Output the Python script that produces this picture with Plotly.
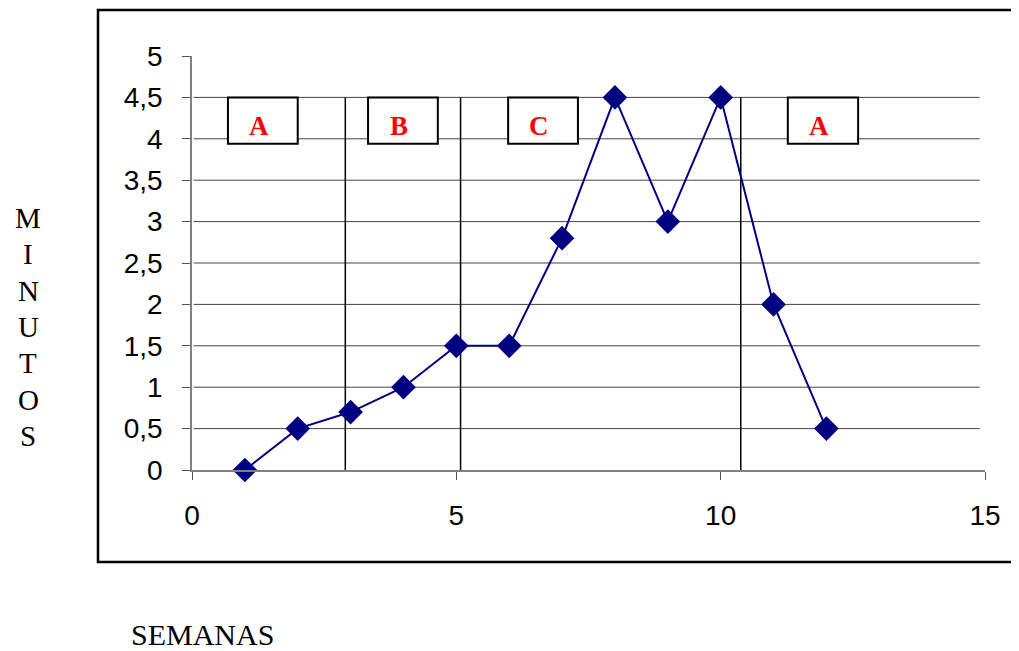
import plotly.graph_objects as go

semanas = [1, 2, 3, 4, 5, 6, 7, 8, 9, 10, 11, 12]
minutos = [0, 0.5, 0.7, 1, 1.5, 1.5, 2.8, 4.5, 3, 4.5, 2, 0.5]

y_ticks = [0, 0.5, 1, 1.5, 2, 2.5, 3, 3.5, 4, 4.5, 5]
y_ticktext = ["0", "0,5", "1", "1,5", "2", "2,5", "3", "3,5", "4", "4,5", "5"]
x_ticks = [0, 5, 10, 15]

phase_lines = [2.9, 5.08, 10.38]
phase_labels = ["A", "B", "C", "A"]
phase_box_x0 = [0.68, 3.33, 5.98, 11.27]
phase_box_x1 = [2.0, 4.65, 7.3, 12.6]
box_y0, box_y1 = 3.94, 4.5

OFF = 8  # default page body margin
W, H = 1019 - OFF, 651 - OFF
L, R, T, B = 192 - OFF, 34, 56 - OFF, 181
pw, ph = W - L - R, H - T - B

def px(xp):
    return (xp - OFF - L) / pw

def py(yp):
    return (H - B - (yp - OFF)) / ph

fig = go.Figure()

shapes = []
for v in y_ticks[1:-1]:
    shapes.append(dict(type="line", xref="x", yref="y", x0=0.03, x1=14.9, y0=v, y1=v,
                       line=dict(color="#444444", width=1), layer="below"))
for v in phase_lines:
    shapes.append(dict(type="line", xref="x", yref="y", x0=v, x1=v, y0=0, y1=4.5,
                       line=dict(color="black", width=1.5), layer="below"))
for x0, x1 in zip(phase_box_x0, phase_box_x1):
    shapes.append(dict(type="rect", xref="x", yref="y", x0=x0, x1=x1, y0=box_y0, y1=box_y1,
                       fillcolor="white", line=dict(color="black", width=2), layer="below"))
shapes.append(dict(type="rect", xref="paper", yref="paper", x0=px(98), x1=px(1040),
                   y0=py(562), y1=py(10), line=dict(color="black", width=2.5)))

fig.add_trace(go.Scatter(
    x=semanas, y=minutos, mode="lines+markers",
    line=dict(color="#000080", width=2),
    marker=dict(symbol="diamond", size=19, color="#000080"),
    cliponaxis=False, showlegend=False,
))

annotations = []
for lab, x0, x1 in zip(phase_labels, phase_box_x0, phase_box_x1):
    annotations.append(dict(x=(x0 + x1) / 2 - 0.08, y=(box_y0 + box_y1) / 2 - 0.06, xref="x", yref="y",
                            text="<b>" + lab + "</b>", showarrow=False,
                            font=dict(family="Liberation Serif", size=27, color="red")))

letters = list("MINUTOS")
for i, ch in enumerate(letters):
    annotations.append(dict(x=px(28), y=py(218 + i * 36.3), xref="paper", yref="paper",
                            text=ch, showarrow=False, xanchor="center", yanchor="middle",
                            font=dict(family="Liberation Serif", size=29, color="black")))
annotations.append(dict(x=px(129), y=py(634), xref="paper", yref="paper", text="SEMANAS",
                        showarrow=False, xanchor="left", yanchor="middle",
                        font=dict(family="Liberation Serif", size=30, color="black")))

fig.update_layout(
    width=W, height=H,
    margin=dict(l=L, r=R, t=T, b=B, pad=0),
    plot_bgcolor="white", paper_bgcolor="white",
    shapes=shapes, annotations=annotations,
    xaxis=dict(range=[0, 15], tickvals=x_ticks, showgrid=False, zeroline=False,
               showline=True, linecolor="#808080", linewidth=1.5,
               ticks="outside", ticklen=8, tickcolor="#555555", ticklabelstandoff=12,
               tickfont=dict(family="Liberation Sans", size=28, color="black")),
    yaxis=dict(range=[0, 5], tickvals=y_ticks, ticktext=y_ticktext, showgrid=False,
               zeroline=False, showline=True, linecolor="#808080", linewidth=1.5,
               ticks="outside", ticklen=8, tickcolor="#555555", ticklabelstandoff=14,
               tickfont=dict(family="Liberation Sans", size=28, color="black")),
)

fig.write_html("out.html")
